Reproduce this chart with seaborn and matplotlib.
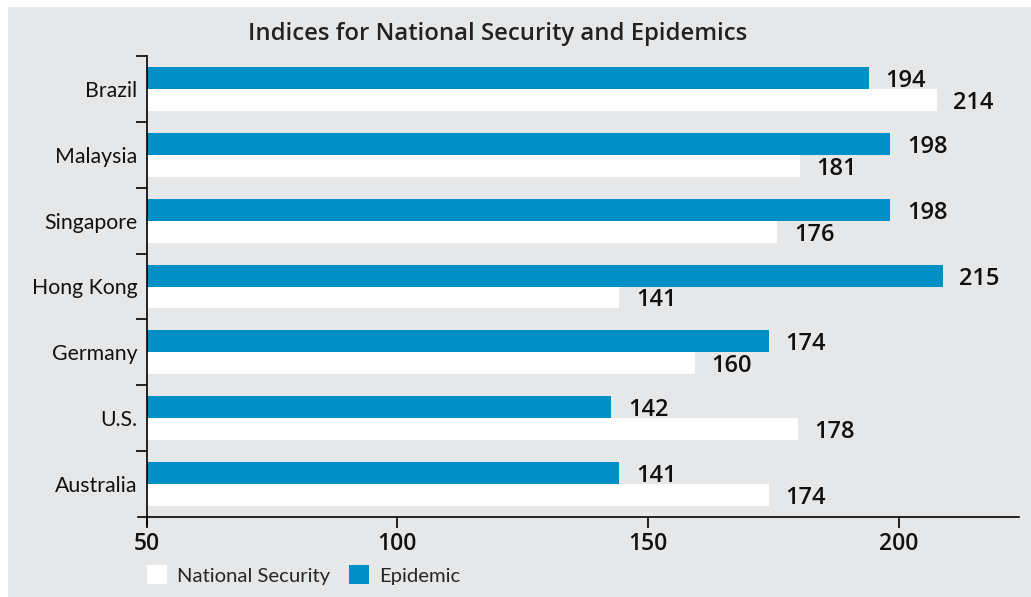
import matplotlib
matplotlib.use("Agg")
import matplotlib.pyplot as plt
from matplotlib.patches import Rectangle, Patch
from matplotlib.ticker import FixedLocator
import seaborn as sns
import pandas as pd
import numpy as np

# ---- data ----
countries = ["Brazil", "Malaysia", "Singapore", "Hong Kong", "Germany", "U.S.", "Australia"]
national_security = [207.6, 180.3, 175.8, 144.3, 159.4, 179.9, 174.1]   # bar lengths as drawn
epidemic = [194.1, 198.3, 198.3, 208.8, 174.1, 142.7, 144.3]            # bar lengths as drawn
ns_labels = ["214", "181", "176", "141", "160", "178", "174"]
ep_labels = ["194", "198", "198", "215", "174", "142", "141"]
x_ticks = [50, 100, 150, 200]

BLUE = "#0090C6"
GREY = "#E6E7E9"
NUMFONT = ["Open Sans", "DejaVu Sans"]

sns.set_style("ticks")
plt.rcParams["font.family"] = ["Lato", "DejaVu Sans"]

df = pd.DataFrame({
    "country": countries * 2,
    "value": epidemic + national_security,
    "series": ["Epidemic"] * len(countries) + ["National Security"] * len(countries),
})

fig = plt.figure(figsize=(10.31, 5.97), dpi=100)
fig.patch.set_facecolor("white")
fig.patches.append(Rectangle((8 / 1031, 0), 1, 1 - 7 / 597, transform=fig.transFigure,
                             facecolor=GREY, edgecolor="none", zorder=-10))

ax = fig.add_axes([146.5 / 1031, 1 - 517 / 597, (1019 - 146.5) / 1031, (517 - 56) / 597])
ax.set_facecolor("none")

sns.barplot(data=df, y="country", x="value", hue="series", orient="h",
            hue_order=["Epidemic", "National Security"],
            palette={"Epidemic": BLUE, "National Security": "white"},
            order=countries, width=0.667, gap=0, linewidth=0, saturation=1,
            legend=False, ax=ax)

for cont, labs in zip(ax.containers, [ep_labels, ns_labels]):
    texts = ax.bar_label(cont, labels=labs, padding=12, fontsize=17, fontweight="semibold",
                         family=NUMFONT, color="#111111")
    for t in texts:
        t.set_verticalalignment("center_baseline")

ax.set_xlim(50, 224)
ax.set_ylim(len(countries) - 0.5, -0.5)
ax.set_xticks(x_ticks)
ax.set_xticklabels([str(t) for t in x_ticks], fontsize=16.5, fontweight="semibold",
                   family=NUMFONT, color="#111111")
ax.tick_params(axis="x", length=8, width=1.2, pad=3, color="black")
ax.tick_params(axis="y", which="major", length=0, pad=6.5, labelsize=15.3, labelcolor="#111111")
ax.yaxis.set_minor_locator(FixedLocator(np.arange(-0.5, len(countries) - 0.5, 1)))
ax.tick_params(axis="y", which="minor", length=8, width=1.2, color="black")
ax.set_xlabel("")
ax.set_ylabel("")
for s in ["top", "right"]:
    ax.spines[s].set_visible(False)
for s in ["left", "bottom"]:
    ax.spines[s].set_color("black")
    ax.spines[s].set_linewidth(1.2)
ax.spines["left"].set_bounds(len(countries) - 0.5 + 0.12, -0.5)
ax.spines["bottom"].set_bounds(48.3, 224)

fig.text(498 / 1031, 1 - 34 / 597, "Indices for National Security and Epidemics",
         ha="center", va="center", fontsize=17.2, fontweight="semibold",
         family=NUMFONT, color="#222222")

handles = [Patch(facecolor="white", edgecolor="none", label="National Security"),
           Patch(facecolor=BLUE, edgecolor="none", label="Epidemic")]
fig.legend(handles=handles, loc="center left", bbox_to_anchor=(147 / 1031, 1 - 575 / 597),
           ncol=2, frameon=False, fontsize=14.6, handlelength=1.0, handleheight=1.0,
           handletextpad=0.5, columnspacing=0.9, borderpad=0, borderaxespad=0)

fig.savefig("out.png", dpi=100)
